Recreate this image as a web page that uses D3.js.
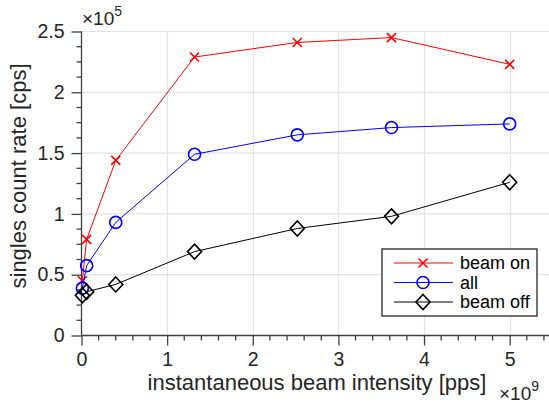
<!DOCTYPE html>
<html><head><meta charset="utf-8">
<script src="https://cdn.jsdelivr.net/npm/d3@7"></script>
<style>body{margin:0;background:#fff}svg{display:block;font-family:"Liberation Sans",Arial,sans-serif}</style>
</head><body><svg id="c" width="549" height="404"></svg>
<script>
const intensity = [0.01, 0.06, 0.4, 1.32, 2.52, 3.62, 5.0];      // x 1e9 pps
const beamOn  = [0.45, 0.79, 1.44, 2.29, 2.41, 2.45, 2.23];      // x 1e5 cps
const all     = [0.39, 0.575, 0.93, 1.49, 1.65, 1.71, 1.74];
const beamOff = [0.33, 0.36, 0.42, 0.69, 0.88, 0.98, 1.26];
const seriesNames = ["beam on", "all", "beam off"];
const xTicks = [0, 1, 2, 3, 4, 5];
const yTicks = [0, 0.5, 1, 1.5, 2, 2.5];

const svg = d3.select("#c");
const x = d3.scaleLinear().domain([0, 5.5]).range([81.5, 552.5]);
const y = d3.scaleLinear().domain([0, 2.5]).range([335.5, 31.5]);
const txt = "#262626";

// grid
svg.append("g").selectAll("line").data(xTicks.slice(1)).join("line")
  .attr("x1", d => Math.round(x(d)) + 0.5).attr("x2", d => Math.round(x(d)) + 0.5)
  .attr("y1", y(0)).attr("y2", y(2.5)).attr("stroke", "#e3e3e3").attr("stroke-width", 1.2);
svg.append("g").selectAll("line").data(yTicks.slice(1)).join("line")
  .attr("y1", d => y(d)).attr("y2", d => y(d))
  .attr("x1", x(0)).attr("x2", 552).attr("stroke", "#e3e3e3").attr("stroke-width", 1.2);

// axes
const xAxis = d3.axisBottom(x).tickValues(xTicks).tickFormat(d3.format("d")).tickSize(10).tickPadding(7);
const gx = svg.append("g").attr("transform", `translate(0,${y(0)})`).call(xAxis);
const yAxis = d3.axisLeft(y).tickValues(yTicks).tickFormat(d => d === 0 ? "0" : d3.format("")(d)).tickSize(10).tickPadding(7);
const gy = svg.append("g").attr("transform", `translate(${x(0)},0)`).call(yAxis);
[gx, gy].forEach(g => {
  g.select(".domain").remove();
  g.selectAll("line").attr("stroke", "#404040").attr("stroke-width", 1.3);
  g.selectAll("text").attr("fill", txt).style("font-size", "19.5px").style("font-family", "Liberation Sans, Arial, sans-serif");
});
// minor ticks
const xMinor = d3.range(0, 5.5 + 1e-9, 0.2).filter(v => Math.abs(v - Math.round(v)) > 1e-6);
svg.append("g").selectAll("line").data(xMinor).join("line")
  .attr("x1", d => x(d)).attr("x2", d => x(d)).attr("y1", y(0)).attr("y2", y(0) + 5)
  .attr("stroke", "#404040").attr("stroke-width", 1.3);
const yMinor = d3.range(0, 2.5 + 1e-9, 0.125).filter(v => Math.abs(v * 2 - Math.round(v * 2)) > 1e-6);
svg.append("g").selectAll("line").data(yMinor).join("line")
  .attr("y1", d => y(d)).attr("y2", d => y(d)).attr("x1", x(0)).attr("x2", x(0) - 5)
  .attr("stroke", "#404040").attr("stroke-width", 1.3);
// axis lines
svg.append("line").attr("x1", x(0)).attr("x2", 552).attr("y1", y(0)).attr("y2", y(0)).attr("stroke", "#404040").attr("stroke-width", 1.3);
svg.append("line").attr("x1", x(0)).attr("x2", x(0)).attr("y1", y(0)).attr("y2", y(2.5)).attr("stroke", "#404040").attr("stroke-width", 1.3);

// labels
svg.append("text").attr("x", 317).attr("y", 390).attr("text-anchor", "middle").attr("fill", txt)
  .style("font-size", "22px").text("instantaneous beam intensity [pps]");
svg.append("text").attr("transform", "translate(26,176) rotate(-90)").attr("text-anchor", "middle").attr("fill", txt)
  .style("font-size", "22px").text("singles count rate [cps]");
// exponents
const e1 = svg.append("text").attr("x", 82).attr("y", 25).attr("fill", txt).style("font-size", "19px");
e1.append("tspan").text("×10");
e1.append("tspan").attr("dy", -9).style("font-size", "14px").text("5");
const e2 = svg.append("text").attr("x", 499).attr("y", 400).attr("fill", txt).style("font-size", "19px");
e2.append("tspan").text("×10");
e2.append("tspan").attr("dy", -9).style("font-size", "14px").text("9");

// data series
const series = [
  {name: seriesNames[0], vals: beamOn, color: "#ff0000", marker: "x"},
  {name: seriesNames[1], vals: all, color: "#0000ff", marker: "o"},
  {name: seriesNames[2], vals: beamOff, color: "#000000", marker: "d"}
];
function drawMarker(g, type, color) {
  if (type === "x") {
    g.append("path").attr("d", "M-4.5,-4.5L4.5,4.5M-4.5,4.5L4.5,-4.5").attr("stroke", color).attr("stroke-width", 1.6).attr("fill", "none");
  } else if (type === "o") {
    g.append("circle").attr("r", 6).attr("stroke", color).attr("stroke-width", 1.6).attr("fill", "none");
  } else {
    g.append("path").attr("d", "M0,-7.5L7,0L0,7.5L-7,0Z").attr("stroke", color).attr("stroke-width", 1.6).attr("fill", "none");
  }
}
const line = d3.line().x((d, i) => x(intensity[i])).y(d => y(d));
series.forEach(s => {
  svg.append("path").attr("d", line(s.vals)).attr("fill", "none").attr("stroke", s.color).attr("stroke-width", 1);
  s.vals.forEach((v, i) => {
    const g = svg.append("g").attr("transform", `translate(${x(intensity[i])},${y(v)})`);
    drawMarker(g, s.marker, s.color);
  });
});

// legend
const lg = svg.append("g");
lg.append("rect").attr("x", 382).attr("y", 249).attr("width", 155).attr("height", 67)
  .attr("fill", "#fff").attr("stroke", "#262626").attr("stroke-width", 1.3);
series.forEach((s, i) => {
  const yy = 263 + i * 19.5;
  lg.append("line").attr("x1", 394).attr("x2", 453).attr("y1", yy).attr("y2", yy).attr("stroke", s.color).attr("stroke-width", 1);
  const g = lg.append("g").attr("transform", `translate(423,${yy})`);
  drawMarker(g, s.marker, s.color);
  lg.append("text").attr("x", 460).attr("y", yy + 6).attr("fill", "#000").style("font-size", "18px").text(s.name);
});
</script></body></html>
